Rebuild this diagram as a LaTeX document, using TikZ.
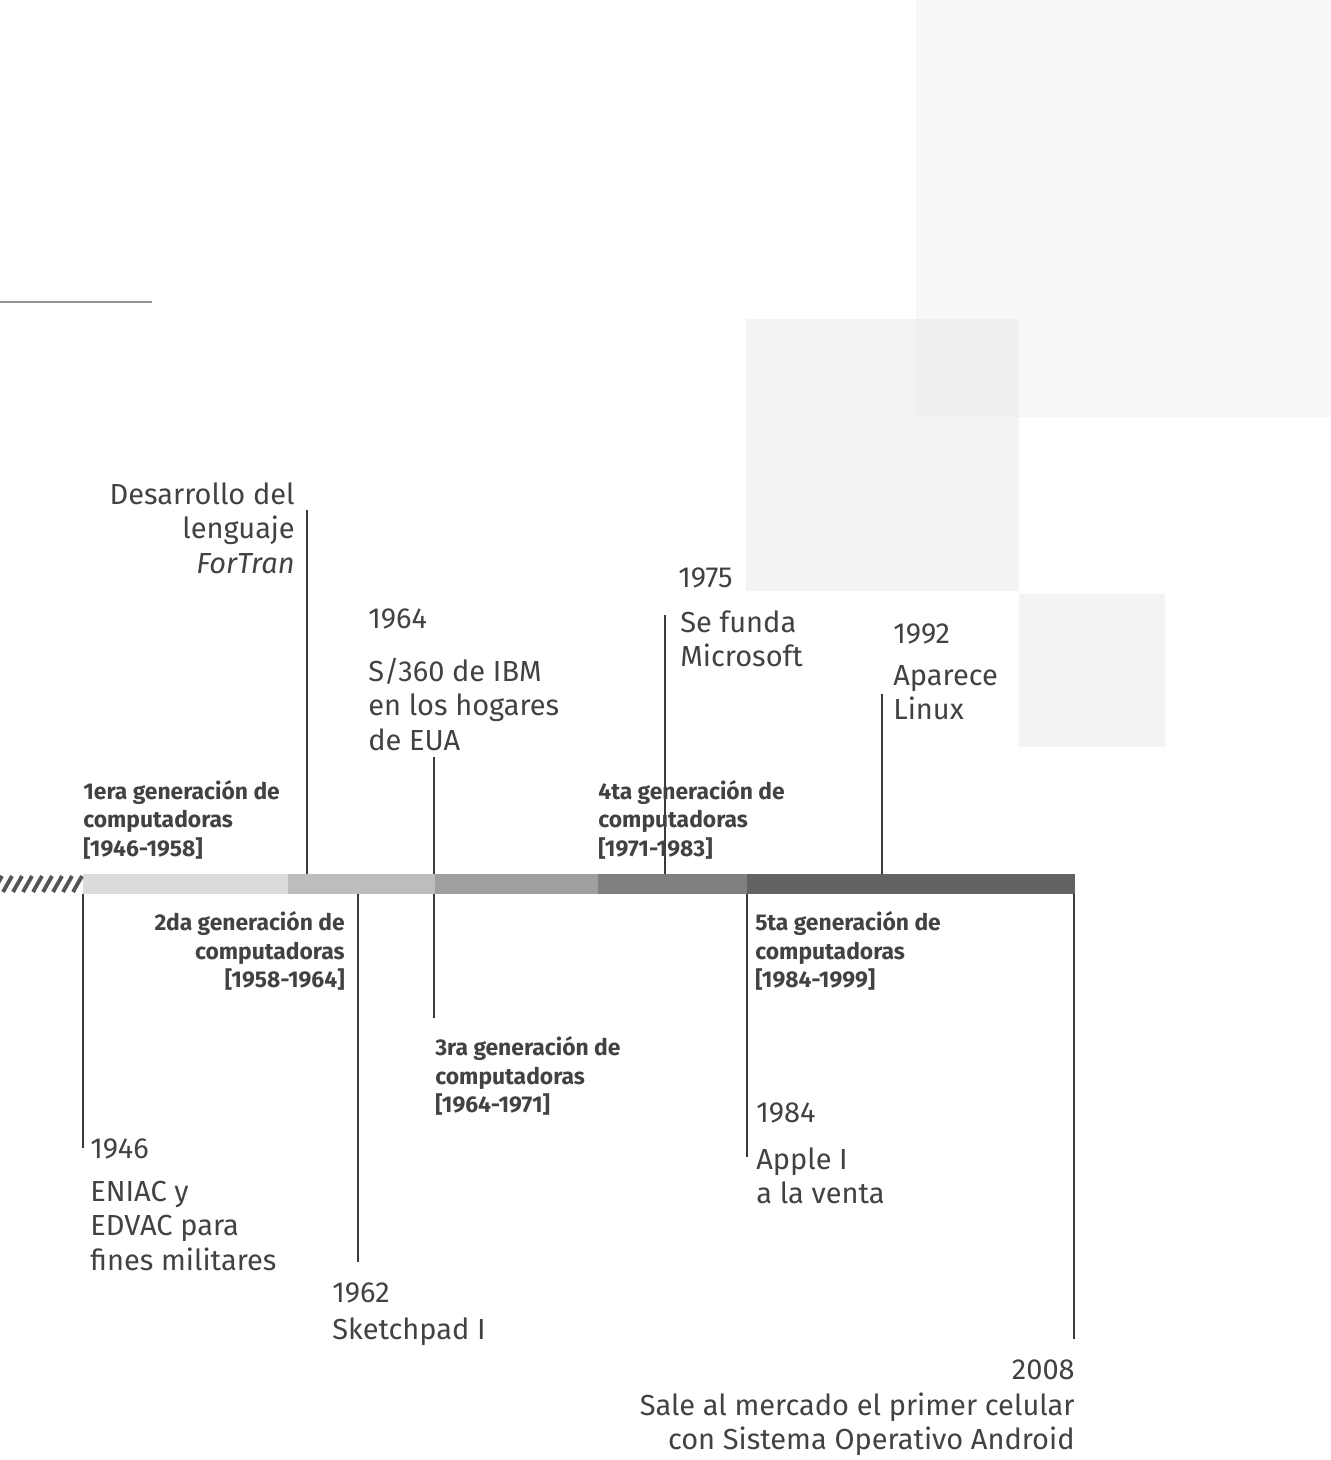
\documentclass[tikz,border=0pt]{standalone}
\usepackage{fontspec}
\setmainfont{Fira Sans}
\definecolor{txtgris}{HTML}{424242}
\definecolor{lineagris}{HTML}{3A3A3A}
\definecolor{rayagris}{HTML}{555555}
\definecolor{gen1}{HTML}{DCDCDD}
\definecolor{gen2}{HTML}{BDBDBD}
\definecolor{gen3}{HTML}{A0A0A0}
\definecolor{gen4}{HTML}{808083}
\definecolor{gen5}{HTML}{636365}
\definecolor{fondoA}{HTML}{F7F7F7}
\definecolor{fondoB}{HTML}{F3F3F3}
\definecolor{fondoC}{HTML}{EFEFEF}
% texto en varias lineas, con la base en la primera linea
\newcommand{\izq}[1]{\begin{tabular}[t]{@{}l@{}}#1\end{tabular}}
\newcommand{\der}[1]{\begin{tabular}[t]{@{}r@{}}#1\end{tabular}}
\begin{document}
\begin{tikzpicture}[x=0.02cm,y=-0.02cm,
  fecha/.style={inner sep=0pt,text=txtgris,font=\fontsize{16.5}{19.8}\selectfont},
  gen/.style={inner sep=0pt,text=txtgris,font=\bfseries\fontsize{13}{16.5}\selectfont},
  guia/.style={draw=lineagris,line width=0.8pt},
  rayita/.style={draw=rayagris,line width=2.2pt}]
\useasboundingbox (0,0) rectangle (1331,1460);
% fondos
\fill[fondoA] (916,0) rectangle (1331,417);
\fill[fondoB] (746,319) rectangle (1019,591);
\fill[fondoC] (916,319) rectangle (1019,417);
\fill[fondoB] (1019,594) rectangle (1165,747);
\draw[draw=gray!85,line width=1.1pt] (0,302) -- (152,302);

% puntos de la linea de tiempo
\coordinate (bFor) at (307,874);  \coordinate (eFor) at (307,510);
\coordinate (a64) at (434,757);   \coordinate (b64) at (434,1018);
\coordinate (b75) at (665,878);   \coordinate (e75) at (665,615);
\coordinate (b92) at (882,876);   \coordinate (e92) at (882,694);
\coordinate (b46) at (83,894);    \coordinate (e46) at (83,1148);
\coordinate (b62) at (358,894);   \coordinate (e62) at (358,1262);
\coordinate (b84) at (747,894);   \coordinate (e84) at (747,1157);
\coordinate (b08) at (1074,894);  \coordinate (e08) at (1074,1339);

\draw[guia] (bFor) -- (eFor);
\draw[guia] (a64) -- (b64);
\draw[guia] (b75) -- (e75);
\draw[guia] (b92) -- (e92);
\draw[guia] (b46) -- (e46);
\draw[guia] (b62) -- (e62);
\draw[guia] (b84) -- (e84);
\draw[guia] (b08) -- (e08);

% barra por generaciones
\fill[gen1] (83,874) rectangle (288,894);
\fill[gen2] (288,874) rectangle (435,894);
\fill[gen3] (435,874) rectangle (598,894);
\fill[gen4] (598,874) rectangle (747,894);
\fill[gen5] (747,874) rectangle (1075,894);
\foreach \i in {-1,...,7}
  \draw[rayita] (3+10*\i,892) -- (12+10*\i,876);

% generaciones
\node[gen,anchor=base west] (g1) at (83,799) {\izq{1era generación de\\computadoras\\{[1946-1958]}}};
\node[gen,anchor=base east] (g2) at (345,930) {\der{2da generación de\\computadoras\\{[1958-1964]}}};
\node[gen,anchor=base west] (g3) at (435,1055) {\izq{3ra generación de\\computadoras\\{[1964-1971]}}};
\node[gen,anchor=base west] (g4) at (598,799) {\izq{4ta generación de\\computadoras\\{[1971-1983]}}};
\node[gen,anchor=base west] (g5) at (755,930) {\izq{5ta generación de\\computadoras\\{[1984-1999]}}};

% eventos
\node[fecha,anchor=base east] (tFor) at (295,504) {\der{Desarrollo del\\lenguaje\\\textit{ForTran}}};
\node[fecha,anchor=base west] (y64) at (368,628) {1964};
\node[fecha,anchor=base west] (t64) at (368,681) {\izq{S/360 de IBM\\en los hogares\\de EUA}};
\node[fecha,anchor=base west] (y75) at (678,587) {1975};
\node[fecha,anchor=base west] (t75) at (680,632) {\izq{Se funda\\Microsoft}};
\node[fecha,anchor=base west] (y92) at (893,643) {1992};
\node[fecha,anchor=base west] (t92) at (893,685) {\izq{Aparece\\Linux}};
\node[fecha,anchor=base west] (y46) at (90,1158) {1946};
\node[fecha,anchor=base west] (t46) at (90,1201) {\izq{ENIAC y\\EDVAC para\\fines militares}};
\node[fecha,anchor=base west] (y62) at (332,1302) {1962};
\node[fecha,anchor=base west] (t62) at (332,1339) {Sketchpad I};
\node[fecha,anchor=base west] (y84) at (756,1122) {1984};
\node[fecha,anchor=base west] (t84) at (756,1169) {\izq{Apple I\\a la venta}};
\node[fecha,anchor=base east] (y08) at (1075,1379) {2008};
\node[fecha,anchor=base east] (t08) at (1075,1415) {\der{Sale al mercado el primer celular\\con Sistema Operativo Android}};
\end{tikzpicture}
\end{document}
